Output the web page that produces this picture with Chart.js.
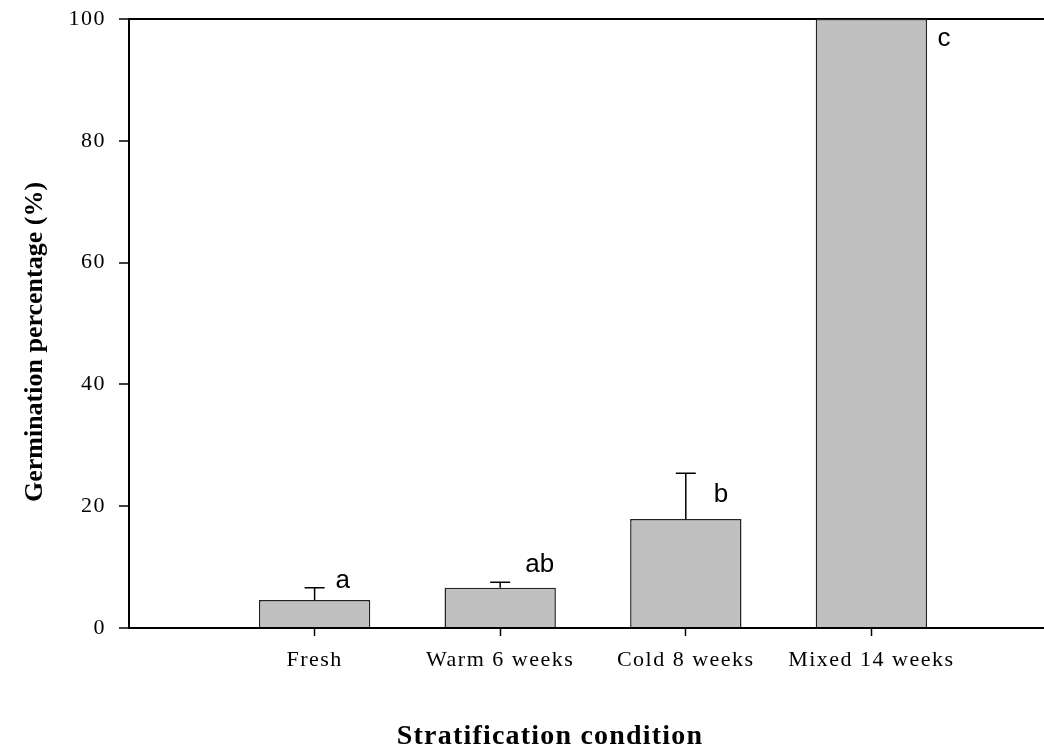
<!DOCTYPE html>
<html>
<head>
<meta charset="utf-8">
<script src="https://cdn.jsdelivr.net/npm/chart.js@4"></script>
<style>
body { margin: 0; background: #fff; }
</style>
</head>
<body>
<canvas id="chart-1" width="1044" height="751"></canvas>
<script>
const categories = ['Fresh', 'Warm 6 weeks', 'Cold 8 weeks', 'Mixed 14 weeks'];
const germination = [4.6, 6.6, 17.9, 100];
const errorUp = [2.0, 0.9, 7.5, 0];
const letters = ['a', 'ab', 'b', 'c'];
const letterY = [6.6, 9.2, 20.7, 95.6];
const yTicks = [0, 20, 40, 60, 80, 100];

const serif = 'Liberation Serif, Times New Roman, serif';

// error bars, significance letters and axis titles
const extras = {
    id: 'extras',
    beforeDraw(chart) {
        chart.ctx.letterSpacing = '1.5px';
    },
    afterDatasetsDraw(chart) {
        const ctx = chart.ctx;
        const x = chart.scales.x, y = chart.scales.y;
        const letterDx = [21, 25, 28, 66];
        ctx.save();
        ctx.strokeStyle = '#000';
        ctx.lineWidth = 1.5;
        categories.forEach((c, i) => {
            if (!errorUp[i]) return;
            const px = x.getPixelForValue(i + 1);
            const y0 = y.getPixelForValue(germination[i]);
            const y1 = y.getPixelForValue(germination[i] + errorUp[i]);
            ctx.beginPath();
            ctx.moveTo(px, y0);
            ctx.lineTo(px, y1);
            ctx.moveTo(px - 10, y1);
            ctx.lineTo(px + 10, y1);
            ctx.stroke();
        });
        ctx.fillStyle = '#000';
        ctx.letterSpacing = '0px';
        ctx.font = '26px Liberation Sans, Arial, sans-serif';
        ctx.textBaseline = 'alphabetic';
        ctx.textAlign = 'left';
        letters.forEach((l, i) => {
            ctx.fillText(l, x.getPixelForValue(i + 1) + letterDx[i], y.getPixelForValue(letterY[i]));
        });
        ctx.restore();
    },
    afterDraw(chart) {
        const ctx = chart.ctx;
        const area = chart.chartArea;
        ctx.save();
        ctx.fillStyle = '#000';
        ctx.textAlign = 'center';
        ctx.textBaseline = 'middle';
        ctx.font = 'bold 28px ' + serif;
        ctx.letterSpacing = '1.2px';
        ctx.fillText('Stratification condition', area.left + 421, area.bottom + 109);
        ctx.font = 'bold 26px ' + serif;
        ctx.letterSpacing = '0px';
        ctx.translate(area.left - 94, area.top + 323);
        ctx.rotate(-Math.PI / 2);
        ctx.fillText('Germination percentage (%)', 0, 0);
        ctx.restore();
    }
};

const ctx1 = document.getElementById('chart-1').getContext('2d');

new Chart(ctx1, {
    type: 'bar',
    data: {
        datasets: [{
            data: categories.map((c, i) => ({ x: i + 1, y: germination[i] })),
            backgroundColor: '#c0c0c0',
            borderColor: '#222',
            borderWidth: 1.5,
            categoryPercentage: 1,
            barPercentage: 0.6
        }]
    },
    options: {
        responsive: false,
        animation: false,
        layout: { padding: { top: 19, right: 0, left: 0, bottom: 0 } },
        plugins: {
            legend: { display: false },
            tooltip: { enabled: false }
        },
        scales: {
            x: {
                type: 'linear',
                min: 0,
                max: 4.93,
                offset: false,
                afterBuildTicks: (scale) => { scale.ticks = categories.map((c, i) => ({ value: i + 1 })); },
                afterFit: (scale) => { scale.height = 123; scale.paddingLeft = 0; scale.paddingRight = 0; },
                ticks: {
                    callback: (v) => categories[v - 1],
                    color: '#000',
                    font: { family: serif, size: 22 },
                    padding: 11,
                    autoSkip: false,
                    maxRotation: 0
                },
                grid: { offset: false, drawOnChartArea: false, tickLength: 8, tickColor: '#000', tickWidth: 1.5 },
                border: { color: '#000', width: 2 }
            },
            y: {
                min: 0,
                max: 100,
                afterBuildTicks: (scale) => { scale.ticks = yTicks.map(v => ({ value: v })); },
                afterFit: (scale) => { scale.width = 129; scale.paddingTop = 0; scale.paddingBottom = 0; },
                ticks: {
                    color: '#000',
                    font: { family: serif, size: 22 },
                    padding: 13
                },
                grid: {
                    color: (c) => c.tick && c.tick.value === 100 ? '#000' : 'rgba(0,0,0,0)',
                    lineWidth: 2,
                    tickLength: 10,
                    tickColor: '#000',
                    tickWidth: 1.5
                },
                border: { color: '#000', width: 2 }
            }
        }
    },
    plugins: [extras]
});
</script>
</body>
</html>
